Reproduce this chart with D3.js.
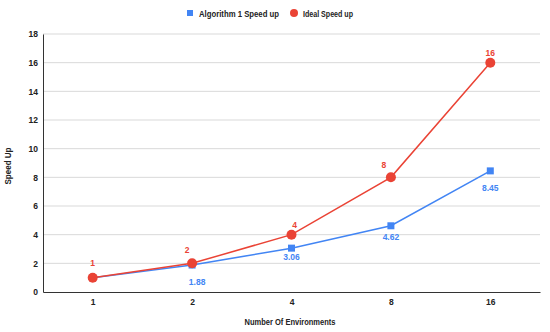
<!DOCTYPE html>
<html lang="en">
<head>
<meta charset="UTF-8" />
<title>Speed Up</title>
<script src="https://d3js.org/d3.v7.min.js"></script>
<style>
    body { margin: 0; background: #fff; }
    text { font-family: Arial, "Liberation Sans", sans-serif; }
</style>
</head>
<body>
<svg id="chart" width="550" height="332"></svg>
<script>
    const environments = ["1", "2", "4", "8", "16"];
    const algoSpeedup = [1, 1.88, 3.06, 4.62, 8.45];
    const idealSpeedup = [1, 2, 4, 8, 16];
    const yTicks = [0, 2, 4, 6, 8, 10, 12, 14, 16, 18];

    const blue = "#4285f4", red = "#ea4335";
    const margin = { top: 34, right: 10, bottom: 40, left: 43 };
    const width = 550 - margin.left - margin.right;
    const height = 332 - margin.top - margin.bottom;

    const svg = d3.select("#chart");
    const g = svg.append("g").attr("transform", `translate(${margin.left},${margin.top})`);

    const x = d3.scalePoint().domain(environments).range([0, width]).padding(0.5);
    const y = d3.scaleLinear().domain([0, 18]).range([height, 0]);

    // grid
    g.append("g").selectAll("line").data(yTicks.filter(d => d > 0)).join("line")
        .attr("x1", 0).attr("x2", width)
        .attr("y1", d => y(d)).attr("y2", d => y(d))
        .attr("stroke", "#d9d9d9").attr("stroke-width", 1);

    // y axis
    const yAxis = g.append("g").call(d3.axisLeft(y).tickValues(yTicks).tickSize(0).tickPadding(5));
    yAxis.select(".domain").attr("stroke", "#333");
    yAxis.selectAll("text").attr("font-size", 8.5).attr("font-weight", "bold").attr("fill", "#222");

    // x axis
    const xAxis = g.append("g").attr("transform", `translate(0,${height})`)
        .call(d3.axisBottom(x).tickSize(0).tickPadding(7));
    xAxis.select(".domain").attr("stroke", "#333");
    xAxis.selectAll("text").attr("font-size", 8.5).attr("font-weight", "bold").attr("fill", "#222");

    // axis titles
    svg.append("text")
        .attr("transform", `translate(11,${margin.top + height / 2 + 3}) rotate(-90)`)
        .attr("text-anchor", "middle").attr("font-size", 9).attr("font-weight", "bold")
        .attr("textLength", 37).attr("lengthAdjust", "spacingAndGlyphs")
        .attr("fill", "#222").text("Speed Up");
    svg.append("text")
        .attr("x", 290).attr("y", 325)
        .attr("text-anchor", "middle").attr("font-size", 9).attr("font-weight", "bold")
        .attr("textLength", 91).attr("lengthAdjust", "spacingAndGlyphs")
        .attr("fill", "#222").text("Number Of Environments");

    const line = d3.line().x((d, i) => x(environments[i])).y(d => y(d));

    // label nudges (Sheets moves labels to dodge the lines)
    const blueNudge = [[0, 0], [5, 20], [0, 12], [0, 14], [0, 20]];
    const redNudge = [[0, -12], [-5, -10], [3, -7], [-7, -9], [0, -7]];

    // algorithm series
    g.append("path").datum(algoSpeedup).attr("d", line)
        .attr("fill", "none").attr("stroke", blue).attr("stroke-width", 1.5);
    g.selectAll(".sq").data(algoSpeedup).join("rect")
        .attr("x", (d, i) => x(environments[i]) - 3.5).attr("y", d => y(d) - 3.5)
        .attr("width", 7).attr("height", 7).attr("fill", blue);

    // ideal series
    g.append("path").datum(idealSpeedup).attr("d", line)
        .attr("fill", "none").attr("stroke", red).attr("stroke-width", 1.5);
    g.selectAll(".dot").data(idealSpeedup).join("circle")
        .attr("cx", (d, i) => x(environments[i])).attr("cy", d => y(d))
        .attr("r", 5).attr("fill", red);

    g.append("g").selectAll("text").data(algoSpeedup.map((v, i) => ({ v, i })).filter(d => d.i > 0)).join("text")
        .attr("x", d => x(environments[d.i]) + blueNudge[d.i][0])
        .attr("y", d => y(d.v) + blueNudge[d.i][1])
        .attr("text-anchor", "middle").attr("font-size", 8.5).attr("font-weight", "bold")
        .attr("fill", blue).text(d => d.v.toFixed(2));

    g.append("g").selectAll("text").data(idealSpeedup).join("text")
        .attr("x", (d, i) => x(environments[i]) + redNudge[i][0])
        .attr("y", (d, i) => y(d) + redNudge[i][1])
        .attr("text-anchor", "middle").attr("font-size", 8.5).attr("font-weight", "bold")
        .attr("fill", red).text(d => d);

    // legend
    const legend = svg.append("g").attr("transform", "translate(0,13)");
    legend.append("rect").attr("x", 187).attr("y", -3).attr("width", 6).attr("height", 6).attr("fill", blue);
    legend.append("text").attr("x", 199).attr("y", 3.5).attr("font-size", 9).attr("font-weight", "bold")
        .attr("textLength", 80).attr("lengthAdjust", "spacingAndGlyphs")
        .attr("fill", "#222").text("Algorithm 1 Speed up");
    legend.append("circle").attr("cx", 294).attr("cy", 0).attr("r", 4).attr("fill", red);
    legend.append("text").attr("x", 303).attr("y", 3.5).attr("font-size", 9).attr("font-weight", "bold")
        .attr("textLength", 50).attr("lengthAdjust", "spacingAndGlyphs")
        .attr("fill", "#222").text("Ideal Speed up");
</script>
</body>
</html>
